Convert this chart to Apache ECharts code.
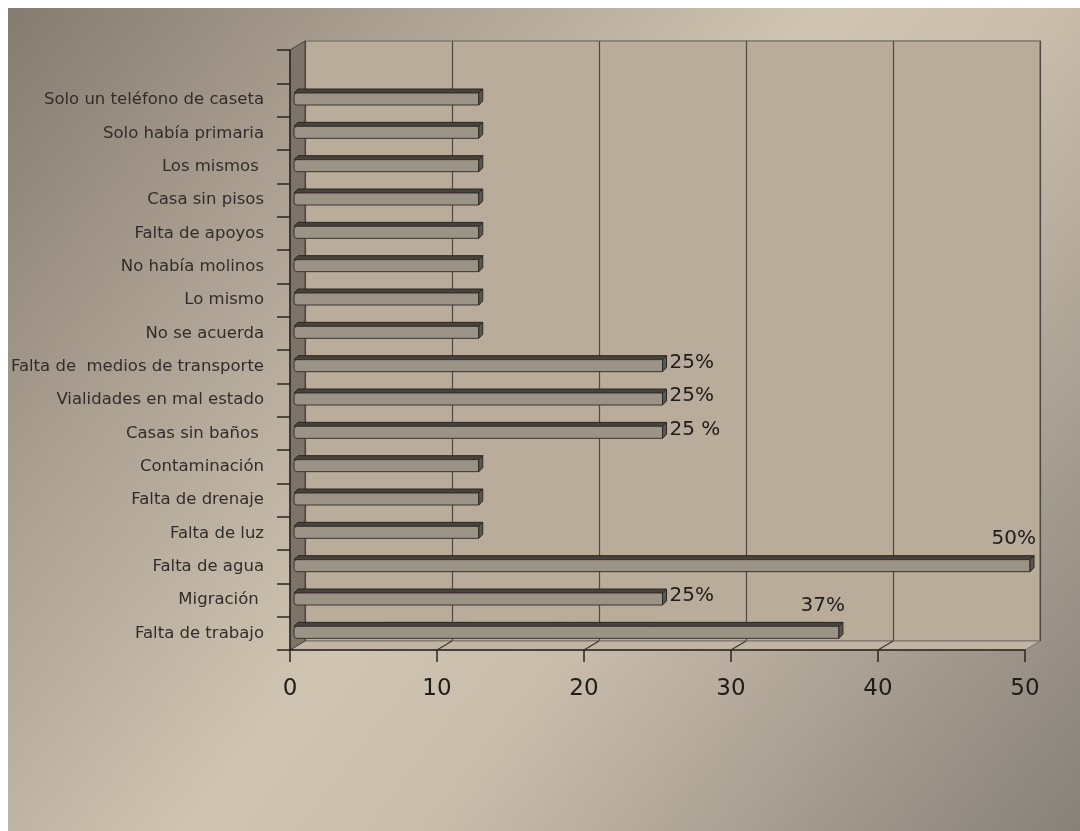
<!DOCTYPE html>
<html>
<head>
<meta charset="utf-8">
<script src="https://cdn.jsdelivr.net/npm/echarts@6/dist/echarts.min.js"></script>
<style>
  html, body { margin: 0; padding: 0; background: #ffffff; }
  #chart { width: 1080px; height: 831px; }
</style>
</head>
<body>
<div id="chart"></div>
<script>
// Categories listed bottom to top; the last slot is an empty row above the bars.
const categories = [
  'Falta de trabajo',
  'Migración ',
  'Falta de agua',
  'Falta de luz',
  'Falta de drenaje',
  'Contaminación',
  'Casas sin baños ',
  'Vialidades en mal estado',
  'Falta de  medios de transporte',
  'No se acuerda',
  'Lo mismo',
  'No había molinos',
  'Falta de apoyos',
  'Casa sin pisos',
  'Los mismos ',
  'Solo había primaria',
  'Solo un teléfono de caseta',
  ''
];

// Percentage of responses for each category.
const values = [37, 25, 50, 12.5, 12.5, 12.5, 25, 25, 25, 12.5, 12.5, 12.5, 12.5, 12.5, 12.5, 12.5, 12.5, null];

// Value labels written next to some bars.
const valueLabels = ['37%', '25%', '50%', '', '', '', '25 %', '25%', '25%', '', '', '', '', '', '', '', '', ''];

// Value axis range.
const axisMin = 0;
const axisMax = 50;
const axisStep = 10;

// Labels drawn above the bar end instead of to its right.
const labelsAbove = new Set(['Falta de agua', 'Falta de trabajo']);

const FRONT = { left: 290, right: 55, top: 50, bottom: 181 };
const DEPTH_X = 15, DEPTH_Y = 9;

const chart = echarts.init(document.getElementById('chart'), null, { renderer: 'canvas' });

function renderBar(params, api) {
  const val = api.value(0);
  const idx = api.value(1);
  if (val == null || isNaN(val)) return null;
  const p0 = api.coord([axisMin, idx]);
  const p1 = api.coord([val, idx]);
  const yc = p0[1];
  const x0 = p0[0] + 4;
  const x1 = p1[0] + 5;
  const yTop = yc - 7;
  const yBot = yc + 5;
  const d = 4;
  const children = [
    {
      type: 'polygon',
      shape: { points: [[x0, yTop], [x1, yTop], [x1 + d, yTop - d], [x0 + d, yTop - d]] },
      style: { fill: '#47423c', stroke: '#2b2824', lineWidth: 1 }
    },
    {
      type: 'rect',
      shape: { x: x0, y: yTop, width: x1 - x0, height: yBot - yTop, r: [3, 0, 0, 3] },
      style: { fill: '#9c9387', stroke: '#3a3530', lineWidth: 1 }
    },
    {
      type: 'polygon',
      shape: { points: [[x1, yTop], [x1 + d, yTop - d], [x1 + d, yBot - d], [x1, yBot]] },
      style: { fill: '#5d564e', stroke: '#2b2824', lineWidth: 1 }
    }
  ];
  const txt = valueLabels[idx];
  if (txt) {
    const above = labelsAbove.has(categories[idx]);
    children.push({
      type: 'text',
      style: {
        text: txt,
        x: above ? x1 + 6 : x1 + 7,
        y: above ? yc - 28 : yc - 4,
        align: above ? 'right' : 'left',
        verticalAlign: 'middle',
        font: '20px "DejaVu Sans"',
        fill: '#1f1c19'
      }
    });
  }
  return { type: 'group', children: children };
}

const option = {
  animation: false,
  grid: [
    Object.assign({ containLabel: false }, FRONT),
    {
      left: FRONT.left + DEPTH_X,
      right: FRONT.right - DEPTH_X,
      top: FRONT.top - DEPTH_Y,
      bottom: FRONT.bottom + DEPTH_Y,
      show: true,
      backgroundColor: '#b9ac9b',
      borderColor: '#8d857a',
      borderWidth: 2,
      z: 0
    }
  ],
  xAxis: [
    {
      gridIndex: 0, type: 'value', min: axisMin, max: axisMax, interval: axisStep,
      axisLine: { show: true, lineStyle: { color: '#2a2622', width: 1.5 } },
      axisTick: { show: true, length: 12, lineStyle: { color: '#2a2622', width: 1.5 } },
      splitLine: { show: false },
      axisLabel: { margin: 28, fontSize: 23, fontFamily: 'DejaVu Sans', color: '#1f1c19' },
      z: 4
    },
    {
      gridIndex: 1, type: 'value', min: axisMin, max: axisMax, interval: axisStep,
      axisLine: { show: false }, axisTick: { show: false }, axisLabel: { show: false },
      splitLine: { show: true, lineStyle: { color: '#4f4943', width: 1.2 } }
    }
  ],
  yAxis: [
    {
      gridIndex: 0, type: 'category', data: categories,
      axisLine: { show: true, lineStyle: { color: '#2a2622', width: 1.5 } },
      axisTick: { show: true, length: 13, lineStyle: { color: '#2a2622', width: 1.5 } },
      axisLabel: { margin: 26, fontSize: 16.5, fontFamily: 'DejaVu Sans', color: '#312d2a' },
      z: 4
    },
    {
      gridIndex: 1, type: 'category', data: categories, show: false
    }
  ],
  series: [
    {
      type: 'custom',
      xAxisIndex: 0,
      yAxisIndex: 0,
      data: values.map((v, i) => [v, i]),
      encode: { x: 0, y: 1 },
      renderItem: renderBar,
      z: 6
    }
  ]
};

chart.setOption(option);

// Frame pieces (page background, side wall, floor) placed from the axes' pixel positions.
const xFront = v => chart.convertToPixel({ xAxisIndex: 0 }, v);
const xL = xFront(axisMin), xR = xFront(axisMax);
const yT = FRONT.top, yB = 831 - FRONT.bottom;
const floorLinks = [];
for (let v = axisMin + axisStep; v < axisMax; v += axisStep) {
  const xf = xFront(v);
  floorLinks.push({
    type: 'line', z: 3,
    shape: { x1: xf, y1: yB, x2: xf + DEPTH_X, y2: yB - DEPTH_Y },
    style: { stroke: '#3a3530', lineWidth: 1.2 }
  });
}

chart.setOption({
  graphic: [
    {
      type: 'rect', z: -100, silent: true,
      shape: { x: 8, y: 8, width: 1072, height: 823 },
      style: {
        fill: new echarts.graphic.LinearGradient(0, 0, 1, 1, [
          { offset: 0, color: '#857b70' },
          { offset: 0.22, color: '#a99e90' },
          { offset: 0.48, color: '#d0c4b2' },
          { offset: 0.62, color: '#c9bcab' },
          { offset: 1, color: '#878179' }
        ])
      }
    },
    {
      type: 'polygon', z: 2, silent: true,
      shape: { points: [[xL, yB], [xR, yB], [xR + DEPTH_X, yB - DEPTH_Y], [xL + DEPTH_X, yB - DEPTH_Y]] },
      style: { fill: '#c2b5a4', stroke: '#7d756b', lineWidth: 1 }
    },
    {
      type: 'polygon', z: 2, silent: true,
      shape: { points: [[xL, yT], [xL + DEPTH_X, yT - DEPTH_Y], [xL + DEPTH_X, yB - DEPTH_Y], [xL, yB]] },
      style: { fill: '#7c7369', stroke: '#4a443e', lineWidth: 1 }
    }
  ].concat(floorLinks)
});
</script>
</body>
</html>
